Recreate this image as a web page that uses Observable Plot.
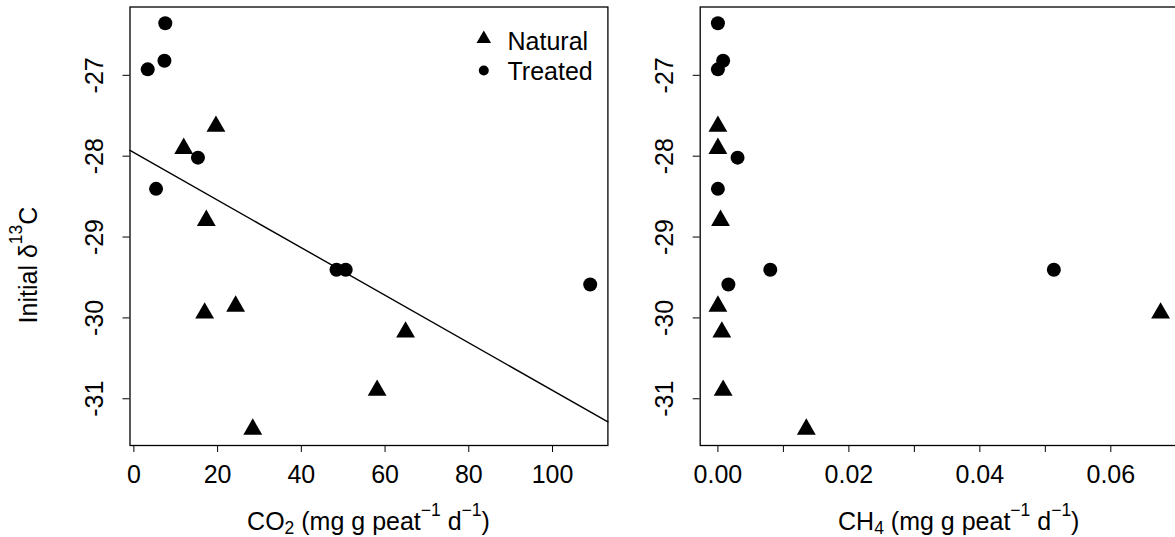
<!DOCTYPE html>
<html><head><meta charset="utf-8">
<script src="https://cdn.jsdelivr.net/npm/d3@7"></script>
<script src="https://cdn.jsdelivr.net/npm/@observablehq/plot@0.6"></script>
<style>
html,body{margin:0;padding:0;background:#fff;}
#wrap{position:relative;width:1175px;height:537px;overflow:hidden;background:#fff;font-family:"Liberation Sans",Arial,sans-serif;}
#left{position:absolute;left:0;top:0;width:620px;height:537px;}
#right{position:absolute;left:620px;top:0;width:580px;height:537px;}
</style></head><body><div id="wrap"><div id="left"></div><div id="right"></div></div>
<script>
// ---- data ----
const groups = ["Natural", "Treated"];
const naturalCO2  = [19.6, 11.9, 17.3, 16.9, 24.3, 64.9, 58.1, 28.4];
const naturalCH4  = [0.0000, 0.0000, 0.0004, 0.0676, 0.0000, 0.0006, 0.0008, 0.0135];
const naturalD13C = [-27.63, -27.905, -28.795, -29.94, -29.855, -30.175, -30.895, -31.377];
const treatedCO2  = [7.5, 7.3, 3.3, 15.3, 5.3, 48.4, 50.6, 109.0];
const treatedCH4  = [0.0000, 0.0008, 0.0000, 0.0030, 0.0000, 0.0080, 0.0513, 0.0016];
const treatedD13C = [-26.356, -26.82, -26.926, -28.018, -28.404, -29.405, -29.405, -29.587];
const fitIntercept = -27.956;   // CO2 regression line
const fitSlope = -0.0294;
const co2Ticks = [0, 20, 40, 60, 80, 100];
const ch4Ticks = [0, 0.01, 0.02, 0.03, 0.04, 0.05, 0.06, 0.07];
const ch4TickLabels = ["0.00", "", "0.02", "", "0.04", "", "0.06", ""];
const d13cTicks = [-31, -30, -29, -28, -27];

// ---- build table ----
const samples = [
  ...naturalCO2.map((v, i) => ({group: groups[0], co2: v, ch4: naturalCH4[i], d13c: naturalD13C[i]})),
  ...treatedCO2.map((v, i) => ({group: groups[1], co2: v, ch4: treatedCH4[i], d13c: treatedD13C[i]}))
];
const pad = ([a, b]) => [a - 0.04 * (b - a), b + 0.04 * (b - a)];
const yDomain = pad(d3.extent(samples, d => d.d13c));
const co2Domain = pad(d3.extent(samples, d => d.co2));
const ch4Domain = pad(d3.extent(samples, d => d.ch4));
const FS = 25;
const FONT = '"Liberation Sans", Arial, sans-serif';
const svgStyle = `max-width:none;overflow:visible;background:transparent;color:black;font-family:${FONT};`;
const symbolScale = {domain: groups, range: ["triangle", "circle"]};

function yLabels() {
  return Plot.text(d13cTicks, {y: d => d, frameAnchor: "left", dx: -34.8, rotate: -90,
    text: d => String(d), textAnchor: "middle", lineAnchor: "middle", fontSize: FS, fill: "black"});
}

const fitLine = co2Domain.map(x => ({x, y: fitIntercept + fitSlope * x}));

const left = Plot.plot({
  width: 620, height: 537,
  marginLeft: 129.5, marginRight: 12.6, marginTop: 6.5, marginBottom: 92,
  style: svgStyle,
  x: {domain: co2Domain},
  y: {domain: yDomain},
  symbol: symbolScale,
  marks: [
    Plot.frame({stroke: "black", strokeWidth: 1.3}),
    Plot.axisX({ticks: co2Ticks, tickSize: 7, tickPadding: 12.5, tickFormat: d => String(d), fontSize: FS, label: null, fill: "black"}),
    Plot.axisY({ticks: d13cTicks, tickSize: 7, tickFormat: () => "", label: null}),
    yLabels(),
    Plot.line(fitLine, {x: "x", y: "y", stroke: "black", strokeWidth: 1.4}),
    Plot.dot(samples, {x: "co2", y: "d13c", symbol: "group", fill: "black", stroke: "none", r: 7}),
    // legend
    Plot.dot([groups[0]], {frameAnchor: "top-left", dx: 353.8, dy: 31.8, symbol: d => d, fill: "black", stroke: "none", r: 5.4}),
    Plot.dot([groups[1]], {frameAnchor: "top-left", dx: 353.8, dy: 63.5, symbol: d => d, fill: "black", stroke: "none", r: 5}),
    Plot.text([groups[0]], {frameAnchor: "top-left", dx: 377.5, dy: 35, text: d => d, textAnchor: "start", lineAnchor: "middle", fontSize: FS, fill: "black"}),
    Plot.text([groups[1]], {frameAnchor: "top-left", dx: 377.5, dy: 65, text: d => d, textAnchor: "start", lineAnchor: "middle", fontSize: FS, fill: "black"})
  ]
});

const right = Plot.plot({
  width: 580, height: 537,
  marginLeft: 79.7, marginRight: 22.2, marginTop: 6.5, marginBottom: 92,
  style: svgStyle,
  x: {domain: ch4Domain},
  y: {domain: yDomain},
  symbol: symbolScale,
  marks: [
    Plot.frame({stroke: "black", strokeWidth: 1.3}),
    Plot.axisX({ticks: ch4Ticks, tickSize: 7, tickPadding: 12.5, tickFormat: (d, i) => ch4TickLabels[i], fontSize: FS, label: null, fill: "black"}),
    Plot.axisY({ticks: d13cTicks, tickSize: 7, tickFormat: () => "", label: null}),
    yLabels(),
    Plot.dot(samples, {x: "ch4", y: "d13c", symbol: "group", fill: "black", stroke: "none", r: 7})
  ]
});

document.getElementById("left").appendChild(left);
document.getElementById("right").appendChild(right);

// ---- axis titles with sub/superscripts ----
function title(svg, x, y, parts, rotate) {
  const t = d3.select(svg).append("text")
    .attr("transform", `translate(${x},${y})` + (rotate ? " rotate(-90)" : ""))
    .attr("text-anchor", "middle").attr("font-size", FS).attr("fill", "black")
    .attr("font-family", FONT);
  let shift = 0;
  for (const [s, kind] of parts) {
    const target = kind === "sub" ? 3.5 : kind === "sup" ? -14.5 : 0;
    t.append("tspan").attr("dy", target - shift)
      .attr("font-size", kind ? FS * 0.7 : FS).text(s);
    shift = target;
  }
}
title(left, 368.5, 530, [["CO"], ["2", "sub"], [" (mg g peat"], ["\u22121", "sup"], [" d"], ["\u22121", "sup"], [")"]]);
title(left, 36.7, 265, [["Initial \u03b4"], ["13", "sup"], ["C"]], true);
title(right, 338.75, 530, [["CH"], ["4", "sub"], [" (mg g peat"], ["\u22121", "sup"], [" d"], ["\u22121", "sup"], [")"]]);
</script></body></html>
